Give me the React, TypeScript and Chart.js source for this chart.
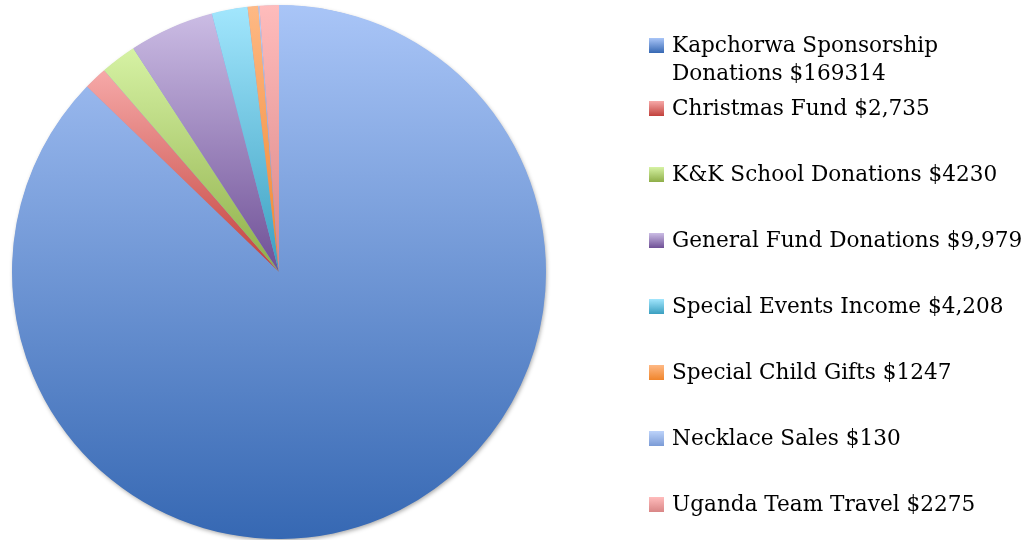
import React, { useEffect, useRef } from "react";
import { Chart, registerables } from "chart.js";

Chart.register(...registerables);

const categories = [
  "Kapchorwa Sponsorship Donations $169314",
  "Christmas Fund $2,735",
  "K&K School Donations $4230",
  "General Fund Donations $9,979",
  "Special Events Income $4,208",
  "Special Child Gifts $1247",
  "Necklace Sales $130",
  "Uganda Team Travel $2275",
];
const amounts = [169314, 2735, 4230, 9979, 4208, 1247, 130, 2275];
const lightColors = ["#a9c5f7", "#f6a9a8", "#d6f2a4", "#cbbce4", "#a2e6fd", "#feb985", "#bdd3fa", "#ffbcbc"];
const darkColors = ["#3668b3", "#c2413c", "#8eae48", "#6f5096", "#3a9fc0", "#f0852c", "#7b9bd6", "#d98686"];

const FONT = "'DejaVu Serif', serif";

function sliceGradient(context: any) {
  const chart = context.chart;
  const i = context.dataIndex;
  const area = chart.chartArea;
  if (!area || i === undefined) return lightColors[i ?? 0];
  const cx = (area.left + area.right) / 2;
  const cy = (area.top + area.bottom) / 2;
  const r = Math.min(area.right - area.left, area.bottom - area.top) / 2;
  const total = amounts.reduce((a, b) => a + b, 0);
  let cum = 0;
  for (let k = 0; k < i; k++) cum += amounts[k];
  const start = -Math.PI / 2 + (2 * Math.PI * cum) / total;
  const end = start + (2 * Math.PI * amounts[i]) / total;
  const ys = [cy, cy + r * Math.sin(start), cy + r * Math.sin(end)];
  for (let k = -2; k <= 3; k++) {
    const a1 = -Math.PI / 2 + 2 * Math.PI * k;
    const a2 = Math.PI / 2 + 2 * Math.PI * k;
    if (a1 >= start && a1 <= end) ys.push(cy - r);
    if (a2 >= start && a2 <= end) ys.push(cy + r);
  }
  const minY = Math.min(...ys);
  const maxY = Math.max(...ys);
  const g = chart.ctx.createLinearGradient(0, minY, 0, maxY + 0.01);
  g.addColorStop(0, lightColors[i]);
  g.addColorStop(1, darkColors[i]);
  return g;
}

const shadowPlugin = {
  id: "pieShadow",
  beforeDatasetsDraw(chart: any) {
    const area = chart.chartArea;
    const ctx = chart.ctx;
    const cx = (area.left + area.right) / 2;
    const cy = (area.top + area.bottom) / 2;
    const r = Math.min(area.right - area.left, area.bottom - area.top) / 2;
    ctx.save();
    ctx.shadowColor = "rgba(0,0,0,0.35)";
    ctx.shadowBlur = 4;
    ctx.shadowOffsetX = 1;
    ctx.shadowOffsetY = 2;
    ctx.fillStyle = "#7f9fdd";
    ctx.beginPath();
    ctx.arc(cx, cy, r - 0.5, 0, Math.PI * 2);
    ctx.fill();
    ctx.restore();
  },
};

const legendTops = [31, 94, 160, 226, 292, 358, 424, 490];

export default function App() {
  const canvasRef = useRef<HTMLCanvasElement | null>(null);

  useEffect(() => {
    if (!canvasRef.current) return;
    const chart = new Chart(canvasRef.current, {
      type: "pie",
      data: {
        labels: categories,
        datasets: [
          {
            data: amounts,
            backgroundColor: sliceGradient,
            borderWidth: 0,
          },
        ],
      },
      options: {
        responsive: false,
        animation: false,
        layout: { padding: { left: 12, right: 490, top: 5, bottom: 1 } },
        plugins: {
          legend: { display: false },
          tooltip: { enabled: false },
        },
      },
      plugins: [shadowPlugin],
    });
    return () => chart.destroy();
  }, []);

  return (
    <div style={{ position: "fixed", left: 0, top: 0, width: 1036, height: 540, background: "#fff", overflow: "hidden" }}>
      <canvas ref={canvasRef} width={1036} height={540} style={{ position: "absolute", left: 0, top: 0 }} />
      {categories.map((label, i) => (
        <div
          key={label}
          style={{
            position: "absolute",
            left: 649,
            top: legendTops[i],
            width: 380,
            display: "flex",
            alignItems: "flex-start",
          }}
        >
          <div
            style={{
              width: 15,
              height: 15,
              marginTop: 7,
              flex: "0 0 15px",
              background: `linear-gradient(${lightColors[i]}, ${darkColors[i]})`,
            }}
          />
          <div
            style={{
              marginLeft: 8,
              width: i === 0 ? 300 : 360,
              fontFamily: FONT,
              fontSize: 21.6,
              lineHeight: "28px",
              color: "#000",
              whiteSpace: i === 0 ? "normal" : "nowrap",
            }}
          >
            {label}
          </div>
        </div>
      ))}
    </div>
  );
}
